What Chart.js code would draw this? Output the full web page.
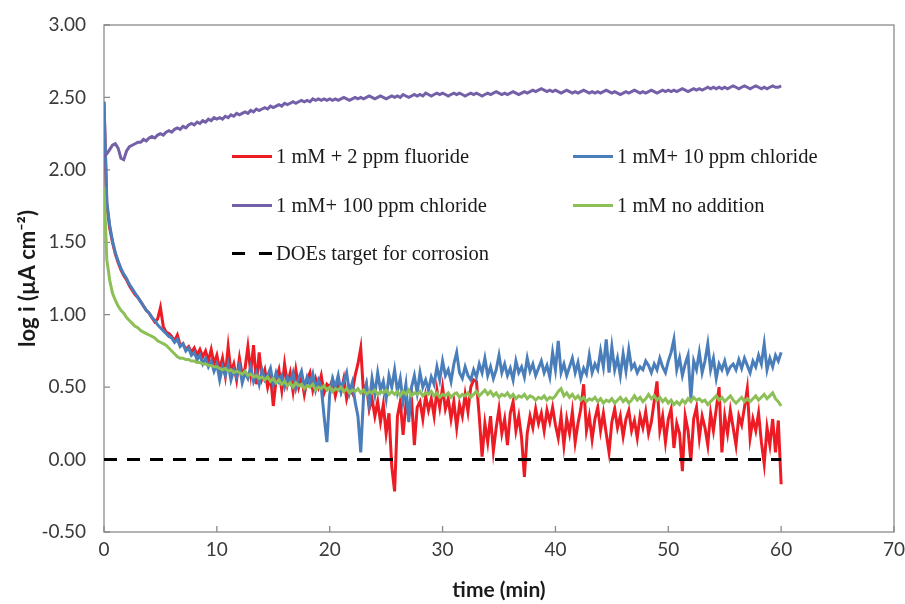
<!DOCTYPE html>
<html><head><meta charset="utf-8">
<script src="https://cdn.jsdelivr.net/npm/chart.js@4.4.1/dist/chart.umd.min.js"></script>
<style>
html,body{margin:0;padding:0;background:#fff;}
#wrap{position:relative;width:905px;height:604px;}
#legend{position:absolute;left:0;top:0;width:905px;height:604px;pointer-events:none;font-family:"Liberation Serif","Times New Roman",serif;font-size:20.5px;color:#1a1a1a;}
.item{position:absolute;height:24px;display:flex;align-items:center;white-space:nowrap;}
.sw{display:inline-block;width:40px;height:3px;margin-right:4px;}
.dash{display:inline-flex;width:40px;justify-content:space-between;margin-right:4px;}
.dash i{display:inline-block;width:13px;height:3px;background:#000;}
</style></head><body>
<div id="wrap"><canvas id="c" width="905" height="604"></canvas><div id="legend"></div></div>
<script>
// sampling times (min)
const timeMin = [
0,0.25,0.5,0.75, 1,1.25,1.5,1.75, 2,2.25,2.5,2.75, 3,3.25,3.5,3.75, 4,4.25,4.5,4.75,
5,5.25,5.5,5.75, 6,6.25,6.5,6.75, 7,7.25,7.5,7.75, 8,8.25,8.5,8.75, 9,9.25,9.5,9.75,
10,10.25,10.5,10.75, 11,11.25,11.5,11.75, 12,12.25,12.5,12.75, 13,13.25,13.5,13.75, 14,14.25,14.5,14.75,
15,15.25,15.5,15.75, 16,16.25,16.5,16.75, 17,17.25,17.5,17.75, 18,18.25,18.5,18.75, 19,19.25,19.5,19.75,
20,20.25,20.5,20.75, 21,21.25,21.5,21.75, 22,22.25,22.5,22.75, 23,23.25,23.5,23.75, 24,24.25,24.5,24.75,
25,25.25,25.5,25.75, 26,26.25,26.5,26.75, 27,27.25,27.5,27.75, 28,28.25,28.5,28.75, 29,29.25,29.5,29.75,
30,30.25,30.5,30.75, 31,31.25,31.5,31.75, 32,32.25,32.5,32.75, 33,33.25,33.5,33.75, 34,34.25,34.5,34.75,
35,35.25,35.5,35.75, 36,36.25,36.5,36.75, 37,37.25,37.5,37.75, 38,38.25,38.5,38.75, 39,39.25,39.5,39.75,
40,40.25,40.5,40.75, 41,41.25,41.5,41.75, 42,42.25,42.5,42.75, 43,43.25,43.5,43.75, 44,44.25,44.5,44.75,
45,45.25,45.5,45.75, 46,46.25,46.5,46.75, 47,47.25,47.5,47.75, 48,48.25,48.5,48.75, 49,49.25,49.5,49.75,
50,50.25,50.5,50.75, 51,51.25,51.5,51.75, 52,52.25,52.5,52.75, 53,53.25,53.5,53.75, 54,54.25,54.5,54.75,
55,55.25,55.5,55.75, 56,56.25,56.5,56.75, 57,57.25,57.5,57.75, 58,58.25,58.5,58.75, 59,59.25,59.5,59.75,
60];

// log i (uA cm-2) — 1 mM + 2 ppm fluoride
const fluoride2ppm = [
2.47,1.76,1.60,1.50, 1.42,1.36,1.31,1.27, 1.24,1.20,1.17,1.14, 1.12,1.09,1.06,1.03, 1.01,0.98,0.95,0.97,
1.05,0.92,0.88,0.87, 0.85,0.82,0.86,0.79, 0.80,0.76,0.78,0.74, 0.77,0.72,0.76,0.71, 0.75,0.68,0.76,0.66,
0.72,0.62,0.70,0.58, 0.78,0.60,0.66,0.55, 0.70,0.58,0.63,0.78, 0.60,0.79,0.52,0.74, 0.56,0.62,0.50,0.58,
0.37,0.55,0.62,0.48, 0.66,0.52,0.60,0.47, 0.62,0.50,0.57,0.45, 0.55,0.60,0.48,0.56, 0.50,0.58,0.46,0.52,
0.50,0.55,0.44,0.52, 0.47,0.56,0.42,0.50, 0.46,0.58,0.66,0.77, 0.45,0.52,0.35,0.42, 0.30,0.40,0.26,0.38,
0.18,0.32,-0.05,-0.22, 0.30,0.40,0.17,0.38, 0.30,0.42,0.10,0.36, 0.40,0.28,0.44,0.34, 0.42,0.30,0.48,0.36,
0.50,0.35,0.42,0.28, 0.40,0.22,0.38,0.30, 0.45,0.33,0.50,0.55, 0.54,0.30,0.02,0.25, 0.12,0.30,0.06,0.22,
0.35,0.18,0.28,0.10, 0.32,0.40,0.20,0.30, 0.15,-0.12,0.18,0.30, 0.22,0.35,0.25,0.32, 0.20,0.34,0.26,0.36,
0.24,0.15,0.30,0.10, 0.28,0.18,0.33,0.12, 0.25,0.35,0.52,0.20, 0.30,0.14,0.28,0.36, 0.20,0.32,0.18,0.05,
0.26,0.35,0.22,0.30, 0.16,0.28,0.34,0.20, 0.27,0.15,0.30,0.22, 0.33,0.18,0.26,0.40, 0.54,0.20,0.30,0.12,
0.28,0.35,0.08,0.25, 0.18,-0.08,0.30,0.20, -0.01,0.28,0.36,0.15, 0.30,0.22,0.10,0.32, 0.20,0.35,0.50,0.05,
0.30,0.18,0.34,0.22, 0.10,0.30,0.24,0.36, 0.49,0.15,0.28,0.20, 0.32,0.12,-0.03,0.22, 0.10,0.28,0.05,0.27,
-0.17];

// 1 mM + 10 ppm chloride
const chloride10ppm = [
2.47,1.78,1.62,1.51, 1.43,1.37,1.32,1.28, 1.25,1.21,1.18,1.15, 1.12,1.09,1.06,1.03, 1.01,0.98,0.96,0.93,
0.91,0.89,0.87,0.85, 0.84,0.81,0.83,0.78, 0.80,0.75,0.77,0.72, 0.74,0.69,0.72,0.66, 0.70,0.64,0.68,0.61,
0.66,0.55,0.64,0.58, 0.66,0.55,0.62,0.57, 0.65,0.53,0.60,0.56, 0.64,0.54,0.60,0.52, 0.62,0.55,0.58,0.63,
0.52,0.60,0.54,0.58, 0.50,0.57,0.53,0.60, 0.49,0.56,0.61,0.50, 0.57,0.52,0.59,0.48, 0.55,0.50,0.30,0.12,
0.45,0.56,0.50,0.58, 0.47,0.54,0.60,0.46, 0.53,0.40,0.30,0.05, 0.44,0.52,0.38,0.56, 0.45,0.60,0.48,0.54,
0.42,0.58,0.50,0.62, 0.47,0.56,0.40,0.52, 0.26,0.50,0.58,0.46, 0.60,0.50,0.55,0.48, 0.57,0.52,0.64,0.55,
0.68,0.58,0.62,0.54, 0.66,0.74,0.60,0.56, 0.64,0.58,0.55,0.62, 0.57,0.66,0.60,0.70, 0.58,0.64,0.56,0.62,
0.72,0.60,0.66,0.58, 0.63,0.55,0.68,0.60, 0.64,0.57,0.70,0.61, 0.66,0.58,0.63,0.68, 0.60,0.65,0.57,0.74,
0.62,0.82,0.60,0.66, 0.58,0.64,0.70,0.60, 0.67,0.56,0.63,0.59, 0.72,0.60,0.66,0.62, 0.75,0.64,0.83,0.60,
0.78,0.62,0.70,0.58, 0.73,0.61,0.76,0.63, 0.66,0.60,0.64,0.62, 0.68,0.65,0.60,0.66, 0.62,0.70,0.64,0.60,
0.68,0.74,0.83,0.62, 0.70,0.58,0.66,0.72, 0.42,0.68,0.62,0.74, 0.60,0.68,0.80,0.62, 0.70,0.56,0.66,0.62,
0.68,0.60,0.64,0.66, 0.62,0.69,0.63,0.70, 0.65,0.60,0.68,0.64, 0.72,0.66,0.80,0.62, 0.70,0.64,0.72,0.68,
0.74];

// 1 mM + 100 ppm chloride
const chloride100ppm = [
2.09,2.11,2.14,2.17, 2.18,2.15,2.08,2.07, 2.13,2.16,2.17,2.18, 2.19,2.19,2.21,2.20, 2.22,2.23,2.22,2.24,
2.25,2.24,2.26,2.27, 2.26,2.28,2.29,2.28, 2.30,2.29,2.31,2.32, 2.31,2.33,2.32,2.34, 2.33,2.35,2.34,2.36,
2.35,2.36,2.35,2.37, 2.36,2.38,2.37,2.39, 2.38,2.39,2.40,2.39, 2.41,2.40,2.42,2.41, 2.42,2.43,2.42,2.44,
2.43,2.44,2.45,2.44, 2.46,2.45,2.46,2.47, 2.46,2.47,2.48,2.47, 2.48,2.47,2.49,2.48, 2.49,2.48,2.49,2.48,
2.49,2.48,2.49,2.48, 2.49,2.50,2.49,2.48, 2.49,2.50,2.49,2.50, 2.49,2.50,2.51,2.50, 2.49,2.50,2.51,2.50,
2.49,2.50,2.51,2.50, 2.51,2.50,2.52,2.51, 2.50,2.51,2.52,2.51, 2.52,2.51,2.53,2.52, 2.51,2.52,2.53,2.52,
2.53,2.52,2.51,2.52, 2.53,2.52,2.53,2.52, 2.51,2.52,2.53,2.52, 2.53,2.52,2.51,2.52, 2.53,2.52,2.53,2.54,
2.53,2.52,2.53,2.52, 2.53,2.54,2.53,2.52, 2.53,2.54,2.53,2.54, 2.55,2.54,2.55,2.56, 2.55,2.54,2.55,2.54,
2.55,2.54,2.53,2.54, 2.55,2.54,2.53,2.54, 2.53,2.54,2.55,2.54, 2.53,2.54,2.53,2.54, 2.53,2.54,2.55,2.54,
2.53,2.54,2.53,2.52, 2.53,2.54,2.53,2.54, 2.55,2.54,2.53,2.54, 2.53,2.54,2.55,2.54, 2.53,2.54,2.55,2.54,
2.55,2.54,2.55,2.54, 2.55,2.56,2.55,2.54, 2.55,2.56,2.55,2.56, 2.55,2.56,2.57,2.56, 2.57,2.56,2.57,2.56,
2.57,2.56,2.57,2.58, 2.57,2.56,2.57,2.58, 2.57,2.56,2.57,2.58, 2.57,2.56,2.57,2.56, 2.57,2.58,2.57,2.57,
2.58];

// 1 mM no addition
const noAddition = [
1.88,1.38,1.24,1.15, 1.10,1.06,1.03,1.01, 0.98,0.96,0.94,0.92, 0.91,0.89,0.88,0.87, 0.86,0.85,0.84,0.82,
0.81,0.80,0.79,0.77, 0.75,0.73,0.71,0.70, 0.70,0.69,0.69,0.68, 0.68,0.67,0.67,0.66, 0.66,0.65,0.65,0.64,
0.64,0.63,0.62,0.63, 0.61,0.62,0.60,0.61, 0.60,0.59,0.61,0.58, 0.59,0.57,0.58,0.56, 0.57,0.55,0.57,0.54,
0.56,0.53,0.55,0.52, 0.54,0.51,0.53,0.50, 0.53,0.51,0.52,0.49, 0.51,0.50,0.52,0.48, 0.50,0.49,0.51,0.48,
0.50,0.47,0.49,0.48, 0.50,0.47,0.49,0.46, 0.48,0.47,0.49,0.46, 0.48,0.45,0.47,0.46, 0.48,0.45,0.47,0.46,
0.48,0.45,0.47,0.45, 0.47,0.44,0.47,0.45, 0.48,0.44,0.46,0.45, 0.47,0.44,0.46,0.45, 0.47,0.44,0.46,0.43,
0.45,0.44,0.46,0.43, 0.45,0.46,0.43,0.45, 0.44,0.46,0.43,0.45, 0.47,0.44,0.46,0.48, 0.45,0.47,0.44,0.46,
0.43,0.45,0.44,0.46, 0.43,0.45,0.42,0.44, 0.43,0.45,0.42,0.44, 0.43,0.41,0.43,0.42, 0.44,0.41,0.43,0.42,
0.44,0.47,0.49,0.44, 0.46,0.43,0.45,0.42, 0.44,0.41,0.43,0.40, 0.42,0.41,0.43,0.40, 0.42,0.39,0.41,0.40,
0.42,0.39,0.41,0.43, 0.40,0.42,0.39,0.41, 0.44,0.41,0.43,0.40, 0.42,0.45,0.42,0.44, 0.41,0.43,0.40,0.42,
0.39,0.41,0.38,0.40, 0.38,0.41,0.39,0.42, 0.40,0.43,0.41,0.42, 0.40,0.41,0.38,0.40, 0.42,0.44,0.41,0.43,
0.40,0.42,0.44,0.41, 0.39,0.41,0.43,0.40, 0.42,0.40,0.42,0.44, 0.41,0.43,0.45,0.42, 0.44,0.46,0.42,0.40,
0.37];

// DOE target line
const doeTime = [0, 60];
const doeTarget = [0.00, 0.00];

const xTicks = [0, 10, 20, 30, 40, 50, 60, 70];
const yTicks = [-0.5, 0, 0.5, 1.0, 1.5, 2.0, 2.5, 3.0];

const seriesNames = ['1 mM + 2 ppm fluoride', '1 mM+ 10 ppm chloride', '1 mM+ 100 ppm chloride', '1 mM no addition', 'DOEs target for corrosion'];
const seriesColors = ['#ED1C24', '#4A7EBB', '#7460A9', '#8CBF56', '#000000'];

const pts = (ts, vs) => ts.map((t, i) => ({x: t, y: vs[i]}));

const frameTicks = {
  id: 'frameTicks',
  beforeDatasetsDraw(chart) {
    const {ctx, chartArea: a, scales: {x, y}} = chart;
    ctx.save();
    ctx.strokeStyle = '#8a8a8a';
    ctx.lineWidth = 1.3;
    ctx.strokeRect(a.left, a.top, a.right - a.left, a.bottom - a.top);
    ctx.beginPath();
    y.ticks.forEach((t, i) => { const p = y.getPixelForTick(i); ctx.moveTo(a.left, p); ctx.lineTo(a.left + 6, p); });
    x.ticks.forEach((t, i) => { const p = x.getPixelForTick(i); ctx.moveTo(p, a.bottom); ctx.lineTo(p, a.bottom - 6); });
    ctx.stroke();
    ctx.restore();
  }
};

const mk = (i, ts, vs, order, extra) => Object.assign({
  label: seriesNames[i], data: pts(ts, vs), borderColor: seriesColors[i], backgroundColor: seriesColors[i],
  borderWidth: 3, pointRadius: 0, tension: 0, order: order, fill: false
}, extra || {});

new Chart(document.getElementById('c'), {
  type: 'line',
  data: {
    datasets: [
      mk(0, timeMin, fluoride2ppm, 5),
      mk(1, timeMin, chloride10ppm, 4),
      mk(2, timeMin, chloride100ppm, 3),
      mk(3, timeMin, noAddition, 2),
      mk(4, doeTime, doeTarget, 1, {borderDash: [13, 10], borderWidth: 3})
    ]
  },
  options: {
    responsive: false,
    animation: false,
    layout: {padding: {top: 25, right: 11, left: 0, bottom: 0}},
    plugins: {legend: {display: false}, tooltip: {enabled: false}},
    scales: {
      x: {
        type: 'linear', min: 0, max: 70,
        afterBuildTicks(s) { s.ticks = xTicks.map(v => ({value: v})); },
        afterFit(s) { s.height = 72; s.paddingLeft = 0; s.paddingRight = 0; },
        grid: {display: false, drawTicks: false},
        border: {display: false},
        ticks: {color: '#3a3a3a', font: {family: 'Lato', size: 19}, padding: 6, maxRotation: 0},
        title: {display: true, text: 'time (min)', color: '#1a1a1a', font: {family: 'Lato', size: 21, weight: 'bold'}, padding: {top: 2, bottom: 1}}
      },
      y: {
        type: 'linear', min: -0.5, max: 3.0,
        afterBuildTicks(s) { s.ticks = yTicks.map(v => ({value: v})); },
        afterFit(s) { s.width = 104; s.paddingTop = 0; s.paddingBottom = 0; },
        grid: {display: false, drawTicks: false},
        border: {display: false},
        ticks: {color: '#3a3a3a', font: {family: 'Lato', size: 19}, padding: 18, callback: v => Number(v).toFixed(2)},
        title: {display: true, text: 'log i (µA cm⁻²)', color: '#1a1a1a', font: {family: 'Lato', size: 22, weight: 'bold'}, padding: {top: 15, bottom: 0}}
      }
    }
  },
  plugins: [frameTicks]
});

// legend (inside plot)
const legendLayout = [
  {i: 0, left: 232, cy: 156}, {i: 1, left: 573, cy: 156},
  {i: 2, left: 232, cy: 205}, {i: 3, left: 573, cy: 205},
  {i: 4, left: 232, cy: 253}
];
const lg = document.getElementById('legend');
legendLayout.forEach(L => {
  const d = document.createElement('div');
  d.className = 'item';
  d.style.left = L.left + 'px';
  d.style.top = (L.cy - 12) + 'px';
  if (L.i === 4) {
    d.innerHTML = '<span class="dash"><i></i><i></i></span>';
  } else {
    d.innerHTML = '<span class="sw" style="background:' + seriesColors[L.i] + '"></span>';
  }
  const t = document.createElement('span');
  t.textContent = seriesNames[L.i];
  d.appendChild(t);
  lg.appendChild(d);
});
</script>
</body></html>
